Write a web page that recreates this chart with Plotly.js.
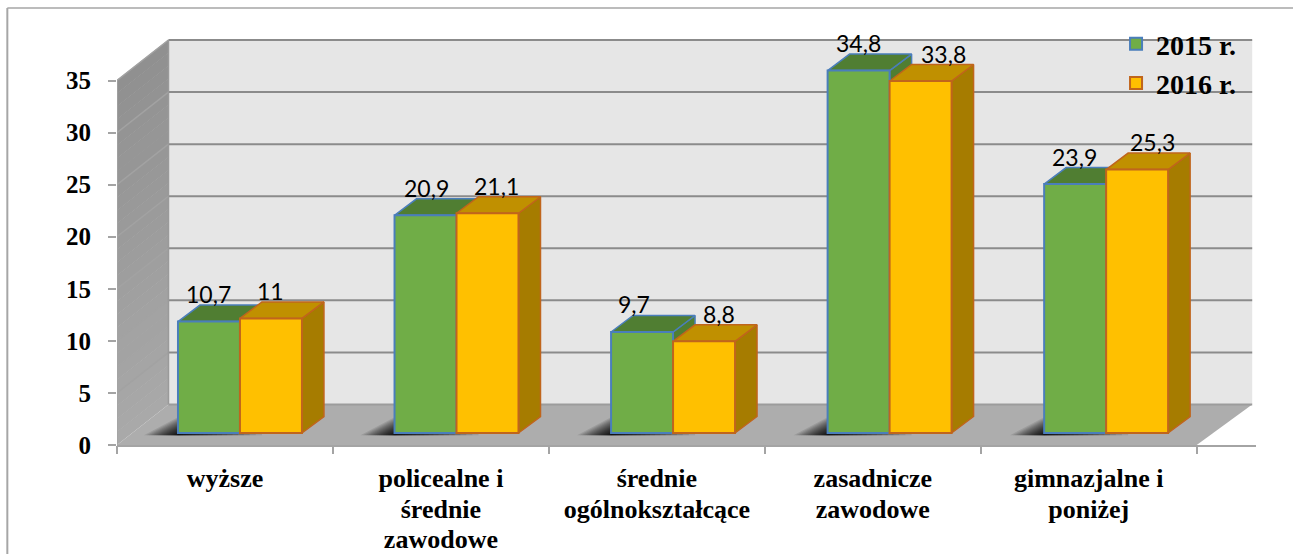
<!DOCTYPE html>
<html>
<head>
<meta charset="utf-8">
<script src="https://cdn.plot.ly/plotly-3.0.1.min.js"></script>
<style>html,body{margin:0;padding:0;background:#fff;overflow:hidden}#c{width:1293px;height:554px}</style>
</head>
<body>
<div id="c"></div>
<script>
const categories = ['wyższe', 'policealne i<br>średnie<br>zawodowe', 'średnie<br>ogólnokształcące', 'zasadnicze<br>zawodowe', 'gimnazjalne i<br>poniżej'];
const s2015 = [10.7, 20.9, 9.7, 34.8, 23.9];
const s2016 = [11, 21.1, 8.8, 33.8, 25.3];
const yTicks = [0, 5, 10, 15, 20, 25, 30, 35];
const nudge2015 = [0, 1, -8, 0, -1];
const nudge2016 = [0, 9, 15, 23, 15];

// pixel scale of the plot
const PL = 116.7, PR = 1256, PT = 35, PB = 445;
const pxX = 216, pxY = 10.414;
const xMax = (PR - PL) / pxX, yMax = (PB - PT) / pxY;
// oblique projection
const wallDX = 51.5 / pxX, wallDY = 40.5 / pxY, wallW = 1084 / pxX;
const lift = 12 / pxY, barDX = 22 / pxX, barDY = 16.5 / pxY;
const pitch = 216.6 / pxX;
const barW = 62 / pxX, greenOff = 61 / pxX, yellowOff = greenOff + barW;
const nCat = categories.length;

const GRID_BACK = '#8b8b8b', GRID_WALL = '#a2a2a2';
const traces = [];
function poly(xs, ys, fill, line, lw) {
  traces.push({type: 'scatter', mode: 'lines', x: xs.concat(xs[0]), y: ys.concat(ys[0]), fill: 'toself',
    fillcolor: fill, line: {color: line || fill, width: lw === undefined ? 0 : lw},
    hoverinfo: 'skip', showlegend: false});
}
function segs(xs, ys, color, w) {
  traces.push({type: 'scatter', mode: 'lines', x: xs, y: ys, line: {color: color, width: w},
    hoverinfo: 'skip', showlegend: false});
}

// back wall
poly([wallDX, wallDX + wallW, wallDX + wallW, wallDX], [wallDY, wallDY, 35 + wallDY, 35 + wallDY], '#e6e6e6');
// left wall, graded
const bands = 28;
for (let b = 0; b < bands; b++) {
  const v0 = 35 * b / bands, v1 = 35 * (b + 1) / bands + 0.05;
  const g = Math.round(0xa9 - (0xa9 - 0x8f) * b / bands);
  const c = `rgb(${g},${g},${g})`;
  poly([0, wallDX, wallDX, 0], [v0, v0 + wallDY, v1 + wallDY, v1], c);
}
// floor
poly([0, nCat, wallDX + wallW, wallDX], [0, 0, wallDY, wallDY], '#adadad');
// gridlines
yTicks.forEach(v => {
  if (v > 0) segs([0, wallDX], [v, v + wallDY], GRID_WALL, 1.5);
  segs([wallDX, wallDX + wallW], [v + wallDY, v + wallDY], v === 0 ? '#9c9c9c' : GRID_BACK, 2);
});
segs([wallDX, wallDX], [wallDY, 35 + wallDY], '#9a9a9a', 1.5);
segs([0, 0], [0, 35], '#a4a4a4', 1.5);

// floor shadows
const shLayers = 20, shW = 34 / pxX, shH = 18 / pxY, shR = 84 / pxX, shB = lift - 2.2 / pxY;
for (let i = 0; i < nCat; i++) {
  const xl = i * pitch + greenOff;
  for (let k = shLayers; k >= 1; k--) {
    const s = Math.pow(k / shLayers, 1.5);
    poly([xl - shW * s, xl, xl + shR * s, xl + shR * s], [shB, shB + shH * s, shB + 2.2 / pxY, shB], 'rgba(0,0,0,0.1)');
  }
}

// bar top and side faces
const GREEN_L = '#4a7ebb', YEL_L = '#c0651c';
function faces(x, v, top, side, ln) {
  const xr = x + barW, t = lift + v;
  poly([xr, xr, xr + barDX, xr + barDX], [lift, t, t + barDY, lift + barDY], side, ln, 1.5);
  poly([x, xr, xr + barDX, x + barDX], [t, t, t + barDY, t + barDY], top, ln, 1.5);
}
for (let i = 0; i < nCat; i++) {
  faces(i * pitch + greenOff, s2015[i], '#507e32', '#507e32', GREEN_L);
  faces(i * pitch + yellowOff, s2016[i], '#c09000', '#a67c00', YEL_L);
}

// bar front faces, drawn on the overlay subplot so they sit over all the faces above
const xc2015 = categories.map((_, i) => i * pitch + greenOff + barW / 2);
const xc2016 = categories.map((_, i) => i * pitch + yellowOff + barW / 2);
traces.push({type: 'bar', name: '2015 r.', x: xc2015, y: s2015, base: lift, width: barW, xaxis: 'x2', yaxis: 'y2',
  marker: {color: '#70ad47', line: {color: GREEN_L, width: 2}}});
traces.push({type: 'bar', name: '2016 r.', x: xc2016, y: s2016, base: lift, width: barW, xaxis: 'x2', yaxis: 'y2',
  marker: {color: '#ffc000', line: {color: YEL_L, width: 2}}});
// carries the category labels on the primary x axis
traces.push({type: 'scatter', mode: 'markers', x: [0], y: [0], marker: {opacity: 0, size: 1}, hoverinfo: 'skip', showlegend: false});

const fmt = v => String(v).replace('.', ',');
const annotations = [];
function labels(xc, vals, nudges) {
  vals.forEach((v, i) => annotations.push({x: xc[i], y: lift + v, xref: 'x', yref: 'y', text: fmt(v), showarrow: false,
    xanchor: 'center', yanchor: 'middle', xshift: nudges[i], yshift: 27.5,
    font: {family: 'Lato, sans-serif', size: 23, color: '#000'}}));
}
labels(xc2015, s2015, nudge2015);
labels(xc2016, s2016, nudge2016);

const plotW = PR - PL, plotH = PB - PT;
const pX = px => (px - PL) / plotW, pY = py => (PB - py) / plotH;
const layout = {
  width: 1293, height: 554, showlegend: true, barmode: 'overlay',
  paper_bgcolor: '#fff', plot_bgcolor: 'rgba(0,0,0,0)',
  margin: {l: PL, r: 1293 - PR, t: PT, b: 554 - PB, pad: 0},
  font: {family: '"Liberation Serif", serif', color: '#000'},
  xaxis: {range: [0, xMax], tickmode: 'array', tickvals: categories.map((_, i) => i + 0.5), ticktext: categories,
    ticks: '', showgrid: false, zeroline: false, showline: true, linecolor: '#a4a4a4', linewidth: 2,
    tickfont: {family: '"Liberation Serif", serif', size: 26, weight: 'bold', color: '#000'}, ticklabelstandoff: 9, tickangle: 0},
  yaxis: {range: [0, yMax], tickmode: 'array', tickvals: yTicks, ticktext: yTicks.map(String),
    ticks: 'outside', ticklen: 8, tickcolor: '#a4a4a4', tickwidth: 1.5, showgrid: false, zeroline: false, showline: false,
    tickfont: {family: '"Liberation Serif", serif', size: 25, weight: 'bold', color: '#000'}, ticklabelstandoff: 12},
  xaxis2: {overlaying: 'x', anchor: 'y2', side: 'bottom', range: [0, xMax], tickmode: 'array',
    tickvals: categories.map((_, i) => i).concat(nCat), showticklabels: false,
    ticks: 'outside', ticklen: 8, tickcolor: '#a4a4a4', tickwidth: 1.5, showgrid: false, zeroline: false, showline: false},
  yaxis2: {overlaying: 'y', anchor: 'x2', range: [0, yMax], visible: false},
  legend: {x: pX(1116), y: pY(19), xanchor: 'left', yanchor: 'top', bgcolor: 'rgba(0,0,0,0)', traceorder: 'normal',
    font: {family: '"Liberation Serif", serif', size: 28, weight: 'bold', color: '#000'}},
  annotations: annotations,
  shapes: [
    {type: 'line', xref: 'paper', yref: 'paper', x0: pX(7), x1: pX(7), y0: pY(8), y1: pY(560), line: {color: '#a6a6a6', width: 2}},
    {type: 'line', xref: 'paper', yref: 'paper', x0: pX(7), x1: pX(1300), y0: pY(8), y1: pY(8), line: {color: '#a6a6a6', width: 1.5}}
  ]
};
Plotly.newPlot('c', traces, layout, {displayModeBar: false, responsive: false}).then(gd => {
  // the reference sets its category lines closer than Plotly's fixed 1.3em
  gd.querySelectorAll('.xtick text tspan.line').forEach(t => {
    const n = parseFloat(t.getAttribute('dy')) / 1.3;
    if (n > 0) t.setAttribute('dy', (n * 1.17) + 'em');
  });
});
</script>
</body>
</html>
